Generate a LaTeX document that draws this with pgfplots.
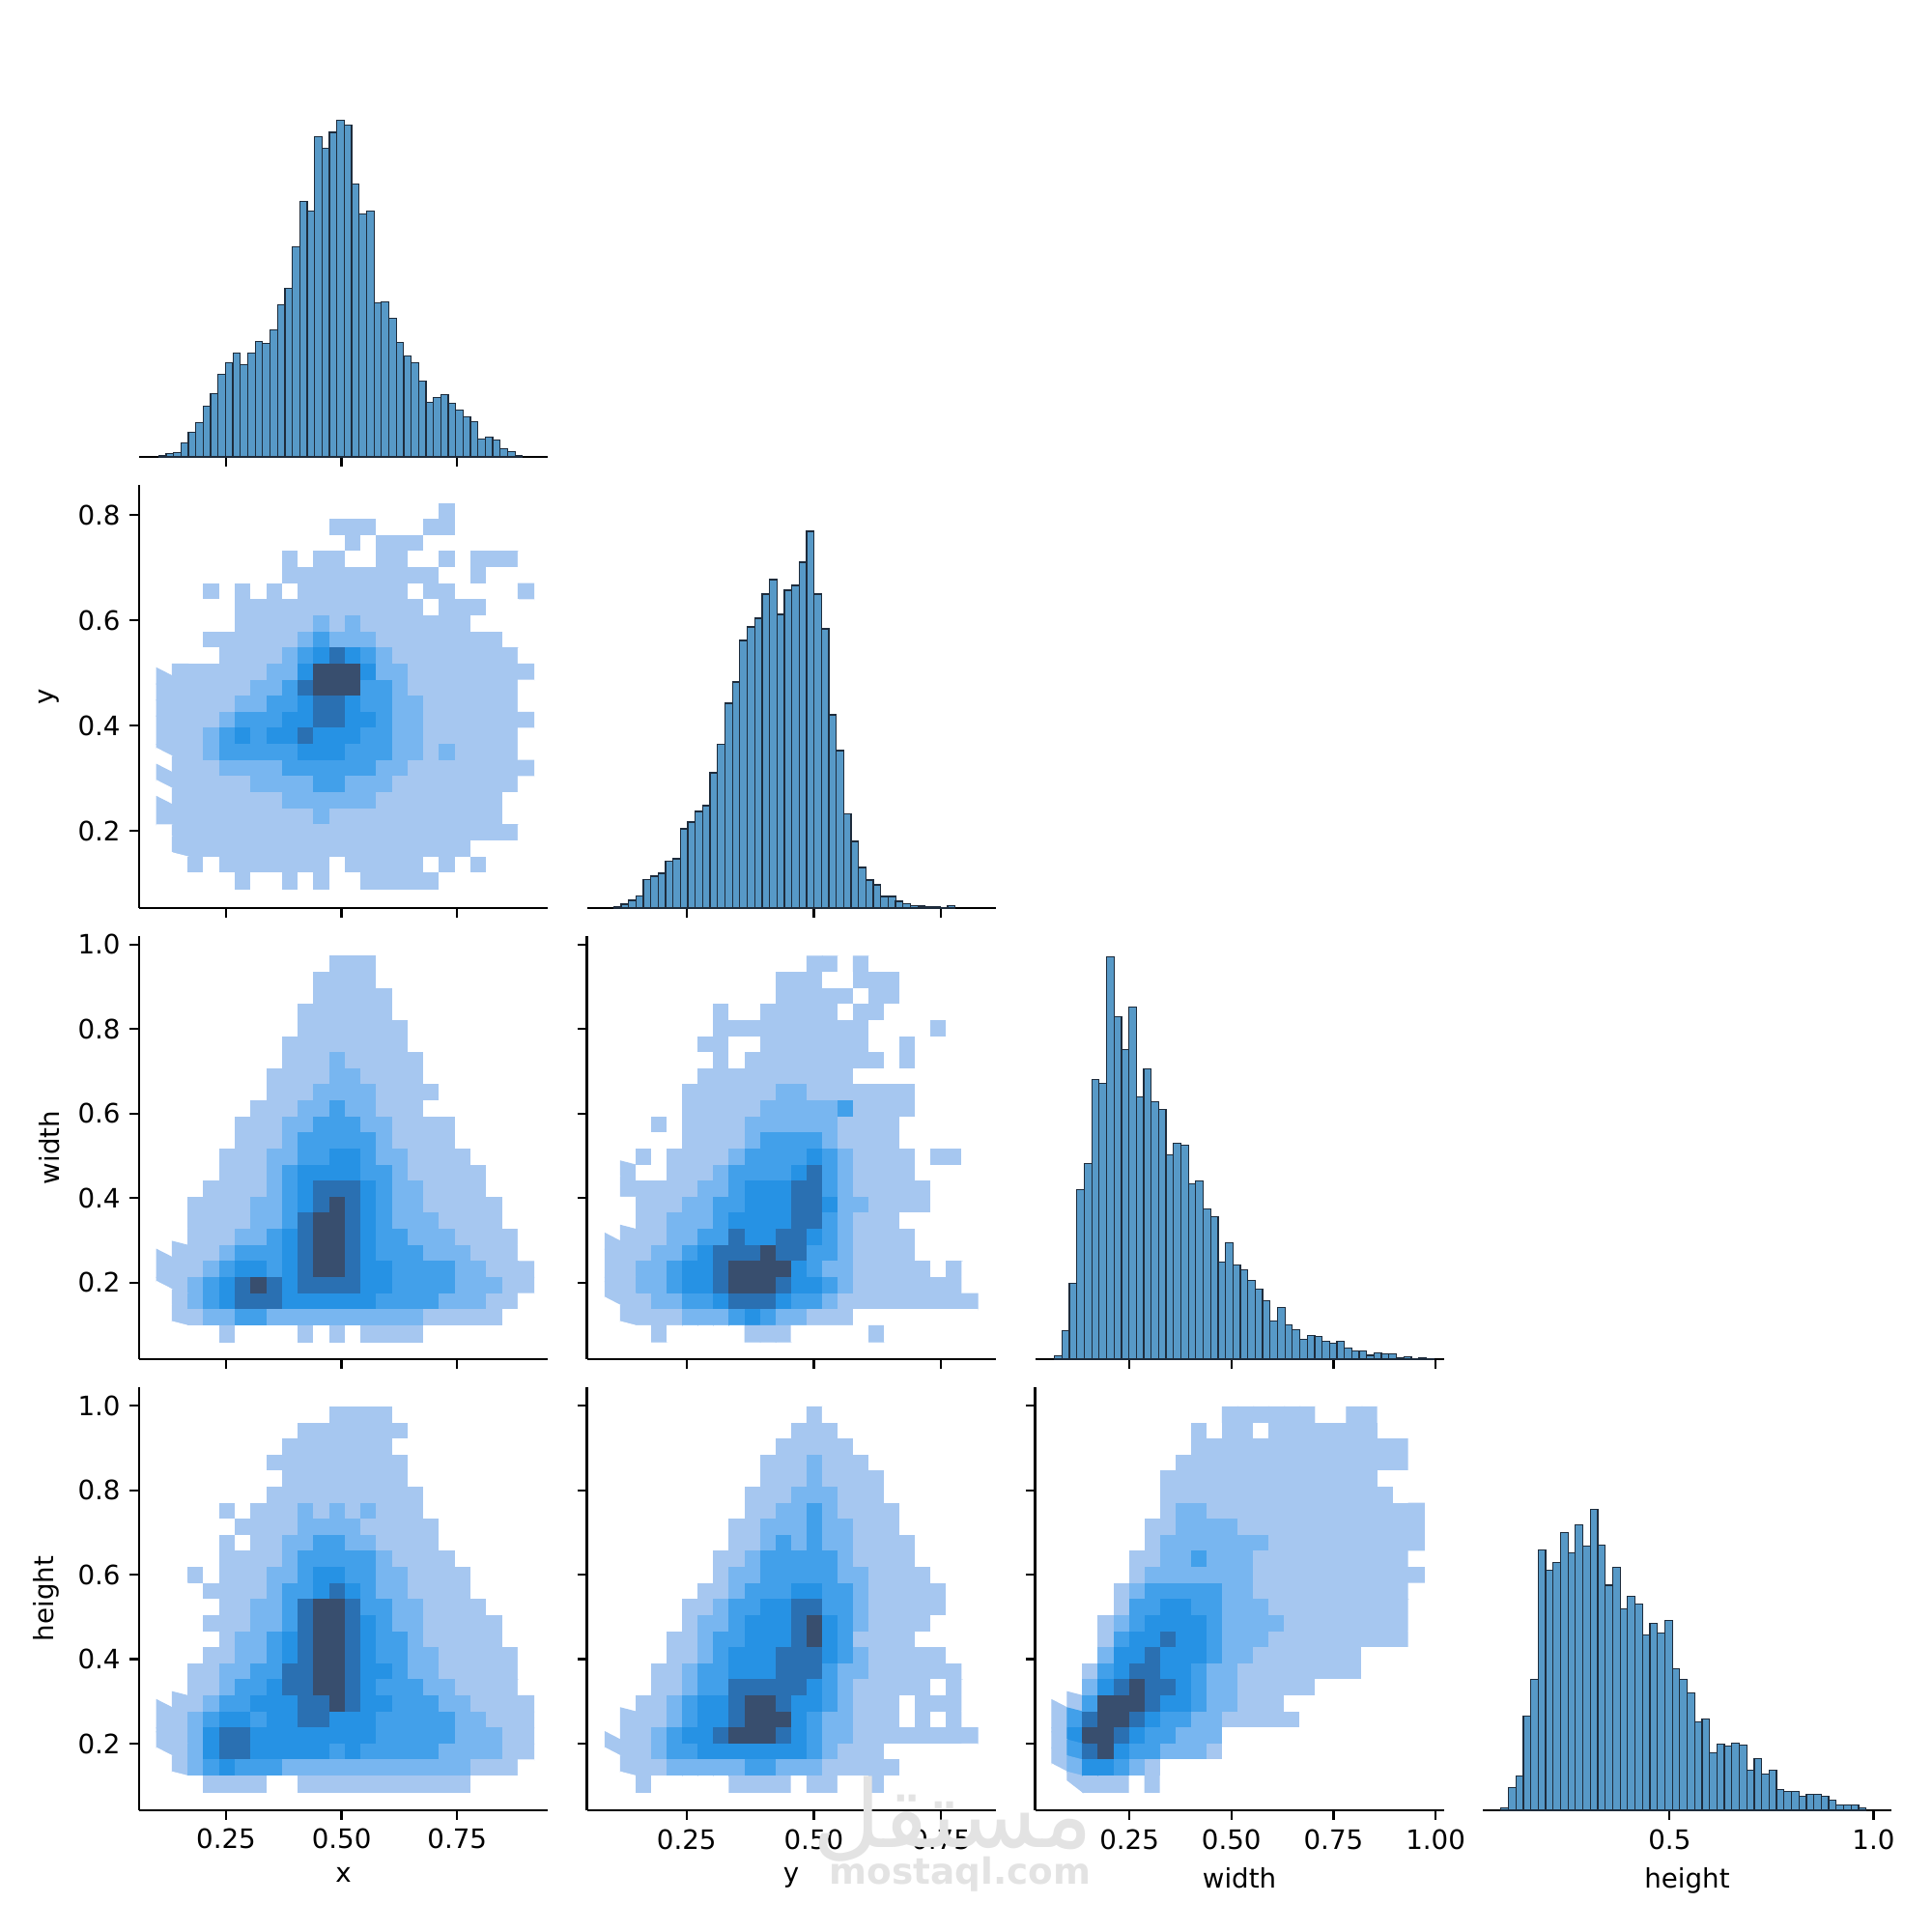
\documentclass[border=0pt]{standalone}
\usepackage{fontspec}
\setmainfont{DejaVu Sans}
\newfontfamily\arabicfont[Script=Arabic]{DejaVu Sans}
\usepackage{pgfplots}
\pgfplotsset{compat=1.18}
\TeXXeTstate=1
\definecolor{barfill}{RGB}{87,153,199}
\definecolor{baredge}{RGB}{30,44,60}
\pgfplotsset{
 ppbase/.style={scale only axis, width=2.115in, height=2.19in, anchor=south west,
   axis x line*=bottom, axis y line*=left, axis line style={-, black, line width=0.8pt},
   tick align=outside, major tick length=3.5pt,
   every tick/.style={black, line width=0.8pt},
   tick label style={font=\fontsize{10}{12}\selectfont, text=black},
   label style={font=\fontsize{10}{12}\selectfont},
   scaled ticks=false, clip=false},
 ppdiag/.style={ppbase, axis y line=none, ytick=\empty, ymin=0, ymax=438},
 pphist/.style={ybar, fill=barfill, draw=baredge, line width=0.45pt},
 ppmat/.style={ppbase, colormap={sns}{rgb255=(255,255,255) rgb255=(166,199,240) rgb255=(120,182,240) rgb255=(66,160,234) rgb255=(38,146,228) rgb255=(42,112,178) rgb255=(56,78,110)}, point meta min=0, point meta max=6},
 noxl/.style={xticklabels={,,,,,}},
 noyl/.style={yticklabels={,,,,,}},
 vX/.style={xmin=0.062, xmax=0.946, xtick={0.25,0.5,0.75}},
 vYx/.style={xmin=0.054, xmax=0.857, xtick={0.25,0.5,0.75}},
 vYy/.style={ymin=0.054, ymax=0.857, ytick={0.2,0.4,0.6,0.8}},
 vWx/.style={xmin=0.019, xmax=1.02, xtick={0.25,0.5,0.75,1.0}},
 vWy/.style={ymin=0.019, ymax=1.02, ytick={0.2,0.4,0.6,0.8,1.0}},
 vHx/.style={xmin=0.042, xmax=1.044, xtick={0.5,1.0}},
 vHy/.style={ymin=0.042, ymax=1.044, ytick={0.2,0.4,0.6,0.8,1.0}},
}
\begin{document}
\begin{tikzpicture}
\useasboundingbox (0,0) rectangle (10in,10in);

% ---------- Row 1 ----------
\begin{axis}[ppdiag, vX, noxl, at={(0.72in,7.635in)}]
\addplot[pphist, bar width=0.01606] coordinates {(0.1124,1.7) (0.1285,3.7) (0.1445,4.7) (0.1606,14.3) (0.1766,25.3) (0.1927,35.3) (0.2088,52.7) (0.2248,65.3) (0.2409,85.3) (0.2569,97.3) (0.2730,107.3) (0.2891,95.3) (0.3051,107.3) (0.3212,119.3) (0.3372,117.3) (0.3533,131.3) (0.3694,157.3) (0.3854,174.3) (0.4015,217.3) (0.4175,264.3) (0.4336,254.7) (0.4497,331.3) (0.4657,319.3) (0.4818,336) (0.4978,348.3) (0.5139,343.3) (0.5300,282.3) (0.5460,251.3) (0.5621,254.3) (0.5781,159.3) (0.5942,160.3) (0.6103,143.3) (0.6263,118.3) (0.6424,104.3) (0.6584,97.3) (0.6745,78.7) (0.6906,56.3) (0.7066,61.3) (0.7227,64.3) (0.7387,55.3) (0.7548,48.3) (0.7709,41.7) (0.7869,36.3) (0.8030,18.3) (0.8190,20.3) (0.8351,17.3) (0.8512,8.3) (0.8672,5.3) (0.8833,1.7)};
\end{axis}

% ---------- Row 2 ----------
\begin{axis}[ppmat, vX, vYy, noxl, at={(0.72in,5.30in)}, yticklabels={0.2,0.4,0.6,0.8}, ylabel={y}]
\addplot[matrix plot*, mesh/cols=24, point meta=explicit] table[row sep=\\, header=false, meta index=0, x expr={0.117+0.034*mod(\coordindex,24)}, y expr={0.10525+0.0305*(23-floor(\coordindex/24))}] {
0\\0\\0\\0\\0\\0\\ 0\\0\\0\\0\\0\\0\\ 0\\0\\0\\0\\0\\0\\ 1\\0\\0\\0\\0\\0\\
0\\0\\0\\0\\0\\0\\ 0\\0\\0\\0\\0\\1\\ 1\\1\\0\\0\\0\\1\\ 1\\0\\0\\0\\0\\0\\
0\\0\\0\\0\\0\\0\\ 0\\0\\0\\0\\0\\0\\ 1\\0\\1\\1\\1\\0\\ 0\\0\\0\\0\\0\\0\\
0\\0\\0\\0\\0\\0\\ 0\\0\\1\\0\\1\\1\\ 0\\0\\1\\1\\0\\0\\ 1\\0\\1\\1\\1\\0\\
0\\0\\0\\0\\0\\0\\ 0\\0\\1\\1\\1\\1\\ 1\\1\\1\\1\\1\\1\\ 0\\0\\1\\0\\0\\0\\
0\\0\\0\\1\\0\\1\\ 0\\1\\0\\1\\1\\1\\ 1\\1\\1\\1\\0\\1\\ 1\\0\\0\\0\\0\\1\\
0\\0\\0\\0\\0\\1\\ 1\\1\\1\\1\\1\\1\\ 1\\1\\1\\1\\1\\0\\ 1\\1\\1\\0\\0\\0\\
0\\0\\0\\0\\0\\1\\ 1\\1\\1\\1\\2\\1\\ 2\\1\\1\\1\\1\\1\\ 1\\1\\0\\0\\0\\0\\
0\\0\\0\\1\\1\\1\\ 1\\1\\1\\2\\3\\2\\ 2\\2\\1\\1\\1\\1\\ 1\\1\\1\\1\\0\\0\\
0\\0\\0\\0\\1\\1\\ 1\\1\\2\\3\\4\\5\\ 4\\3\\2\\1\\1\\1\\ 1\\1\\1\\1\\1\\0\\
0\\1\\1\\1\\1\\1\\ 1\\2\\2\\4\\6\\6\\ 6\\4\\2\\2\\1\\1\\ 1\\1\\1\\1\\1\\1\\
1\\1\\1\\1\\1\\1\\ 2\\2\\3\\5\\6\\6\\ 6\\3\\3\\2\\1\\1\\ 1\\1\\1\\1\\1\\0\\
1\\1\\1\\1\\1\\2\\ 2\\3\\3\\4\\5\\5\\ 4\\3\\3\\2\\2\\1\\ 1\\1\\1\\1\\1\\0\\
1\\1\\1\\1\\2\\3\\ 3\\3\\4\\4\\5\\5\\ 4\\4\\3\\2\\2\\1\\ 1\\1\\1\\1\\1\\1\\
1\\1\\1\\2\\3\\4\\ 3\\4\\4\\5\\4\\4\\ 4\\3\\3\\2\\2\\1\\ 1\\1\\1\\1\\1\\0\\
1\\1\\1\\2\\3\\3\\ 3\\3\\3\\4\\4\\4\\ 3\\3\\3\\2\\2\\1\\ 2\\1\\1\\1\\1\\0\\
0\\1\\1\\1\\2\\2\\ 2\\2\\3\\3\\3\\3\\ 3\\3\\2\\2\\1\\1\\ 1\\1\\1\\1\\1\\1\\
1\\1\\1\\1\\1\\1\\ 2\\2\\2\\2\\3\\3\\ 2\\2\\2\\1\\1\\1\\ 1\\1\\1\\1\\1\\0\\
0\\1\\1\\1\\1\\1\\ 1\\1\\2\\2\\2\\2\\ 2\\2\\1\\1\\1\\1\\ 1\\1\\1\\1\\0\\0\\
1\\1\\1\\1\\1\\1\\ 1\\1\\1\\1\\2\\1\\ 1\\1\\1\\1\\1\\1\\ 1\\1\\1\\1\\0\\0\\
0\\1\\1\\1\\1\\1\\ 1\\1\\1\\1\\1\\1\\ 1\\1\\1\\1\\1\\1\\ 1\\1\\1\\1\\1\\0\\
0\\1\\1\\1\\1\\1\\ 1\\1\\1\\1\\1\\1\\ 1\\1\\1\\1\\1\\1\\ 1\\1\\0\\0\\0\\0\\
0\\0\\1\\0\\1\\1\\ 1\\1\\1\\1\\1\\0\\ 1\\1\\1\\1\\1\\0\\ 1\\0\\1\\0\\0\\0\\
0\\0\\0\\0\\0\\1\\ 0\\0\\1\\0\\1\\0\\ 0\\1\\1\\1\\1\\1\\ 0\\0\\0\\0\\0\\0\\
};
\end{axis}

\begin{axis}[ppdiag, vYx, noxl, at={(3.0375in,5.30in)}]
\addplot[pphist, bar width=0.01458] coordinates {(0.1140,1.3) (0.1286,4) (0.1432,8) (0.1577,12.3) (0.1723,29.3) (0.1869,33) (0.2015,36) (0.2161,48.3) (0.2306,51) (0.2452,82) (0.2598,89) (0.2744,100) (0.2890,106) (0.3035,140) (0.3181,169.3) (0.3327,212) (0.3473,234) (0.3619,277) (0.3764,291) (0.3910,300) (0.4056,325) (0.4202,340) (0.4348,304) (0.4493,329) (0.4639,334) (0.4785,358) (0.4931,390) (0.5077,325) (0.5222,289) (0.5368,200) (0.5514,163) (0.5660,97.7) (0.5806,69) (0.5951,42) (0.6097,29) (0.6243,24) (0.6389,12) (0.6535,12) (0.6680,7) (0.6826,4.7) (0.6972,2.3) (0.7118,2) (0.7264,1.3) (0.7409,1) (0.7555,0.3) (0.7701,2.3)};
\end{axis}

% ---------- Row 3 ----------
\begin{axis}[ppmat, vX, vWy, noxl, at={(0.72in,2.965in)}, yticklabels={0.2,0.4,0.6,0.8,1.0}, ylabel={width}]
\addplot[matrix plot*, mesh/cols=24, point meta=explicit] table[row sep=\\, header=false, meta index=0, x expr={0.117+0.034*mod(\coordindex,24)}, y expr={0.079+0.038*(23-floor(\coordindex/24))}] {
0\\0\\0\\0\\0\\0\\ 0\\0\\0\\0\\0\\1\\ 1\\1\\0\\0\\0\\0\\ 0\\0\\0\\0\\0\\0\\
0\\0\\0\\0\\0\\0\\ 0\\0\\0\\0\\1\\1\\ 1\\1\\0\\0\\0\\0\\ 0\\0\\0\\0\\0\\0\\
0\\0\\0\\0\\0\\0\\ 0\\0\\0\\0\\1\\1\\ 1\\1\\1\\0\\0\\0\\ 0\\0\\0\\0\\0\\0\\
0\\0\\0\\0\\0\\0\\ 0\\0\\0\\1\\1\\1\\ 1\\1\\1\\0\\0\\0\\ 0\\0\\0\\0\\0\\0\\
0\\0\\0\\0\\0\\0\\ 0\\0\\0\\1\\1\\1\\ 1\\1\\1\\1\\0\\0\\ 0\\0\\0\\0\\0\\0\\
0\\0\\0\\0\\0\\0\\ 0\\0\\1\\1\\1\\1\\ 1\\1\\1\\1\\0\\0\\ 0\\0\\0\\0\\0\\0\\
0\\0\\0\\0\\0\\0\\ 0\\0\\1\\1\\1\\2\\ 1\\1\\1\\1\\1\\0\\ 0\\0\\0\\0\\0\\0\\
0\\0\\0\\0\\0\\0\\ 0\\1\\1\\1\\1\\2\\ 2\\1\\1\\1\\1\\0\\ 0\\0\\0\\0\\0\\0\\
0\\0\\0\\0\\0\\0\\ 0\\1\\1\\1\\2\\2\\ 2\\2\\1\\1\\1\\1\\ 0\\0\\0\\0\\0\\0\\
0\\0\\0\\0\\0\\0\\ 1\\1\\1\\2\\2\\3\\ 2\\2\\1\\1\\1\\0\\ 0\\0\\0\\0\\0\\0\\
0\\0\\0\\0\\0\\1\\ 1\\1\\2\\2\\3\\3\\ 3\\2\\2\\1\\1\\1\\ 1\\0\\0\\0\\0\\0\\
0\\0\\0\\0\\0\\1\\ 1\\1\\2\\3\\3\\3\\ 3\\3\\2\\1\\1\\1\\ 1\\0\\0\\0\\0\\0\\
0\\0\\0\\0\\1\\1\\ 1\\2\\2\\3\\3\\4\\ 4\\3\\2\\2\\1\\1\\ 1\\1\\0\\0\\0\\0\\
0\\0\\0\\0\\1\\1\\ 1\\2\\3\\4\\4\\4\\ 4\\3\\3\\2\\1\\1\\ 1\\1\\1\\0\\0\\0\\
0\\0\\0\\1\\1\\1\\ 1\\2\\3\\4\\5\\5\\ 5\\4\\3\\2\\2\\1\\ 1\\1\\1\\0\\0\\0\\
0\\0\\1\\1\\1\\1\\ 2\\2\\3\\4\\5\\6\\ 5\\4\\3\\2\\2\\1\\ 1\\1\\1\\1\\0\\0\\
0\\0\\1\\1\\1\\1\\ 2\\2\\3\\5\\6\\6\\ 5\\4\\3\\2\\2\\2\\ 1\\1\\1\\1\\0\\0\\
0\\0\\1\\1\\1\\2\\ 2\\3\\4\\5\\6\\6\\ 5\\4\\3\\3\\2\\2\\ 2\\1\\1\\1\\1\\0\\
0\\1\\1\\1\\2\\3\\ 3\\3\\4\\5\\6\\6\\ 5\\4\\3\\3\\3\\2\\ 2\\2\\1\\1\\1\\0\\
1\\1\\1\\2\\3\\4\\ 4\\3\\4\\5\\6\\6\\ 5\\4\\4\\3\\3\\3\\ 3\\2\\2\\1\\1\\1\\
1\\1\\2\\3\\4\\5\\ 6\\5\\4\\5\\5\\5\\ 5\\4\\4\\3\\3\\3\\ 3\\2\\2\\2\\1\\1\\
0\\1\\2\\3\\4\\5\\ 5\\5\\4\\4\\4\\4\\ 4\\4\\3\\3\\3\\3\\ 2\\2\\2\\1\\1\\0\\
0\\1\\1\\2\\2\\3\\ 3\\2\\2\\2\\2\\2\\ 2\\2\\2\\2\\2\\1\\ 1\\1\\1\\1\\0\\0\\
0\\0\\0\\0\\1\\0\\ 0\\0\\0\\1\\0\\1\\ 0\\1\\1\\1\\1\\0\\ 0\\0\\0\\0\\0\\0\\
};
\end{axis}

\begin{axis}[ppmat, vYx, vWy, noxl, noyl, at={(3.0375in,2.965in)}]
\addplot[matrix plot*, mesh/cols=24, point meta=explicit] table[row sep=\\, header=false, meta index=0, x expr={0.10525+0.0305*mod(\coordindex,24)}, y expr={0.079+0.038*(23-floor(\coordindex/24))}] {
0\\0\\0\\0\\0\\0\\ 0\\0\\0\\0\\0\\0\\ 0\\1\\1\\0\\1\\0\\ 0\\0\\0\\0\\0\\0\\
0\\0\\0\\0\\0\\0\\ 0\\0\\0\\0\\0\\1\\ 1\\1\\0\\0\\1\\1\\ 1\\0\\0\\0\\0\\0\\
0\\0\\0\\0\\0\\0\\ 0\\0\\0\\0\\0\\1\\ 1\\1\\1\\1\\0\\1\\ 1\\0\\0\\0\\0\\0\\
0\\0\\0\\0\\0\\0\\ 0\\1\\0\\0\\1\\1\\ 1\\1\\1\\0\\1\\1\\ 0\\0\\0\\0\\0\\0\\
0\\0\\0\\0\\0\\0\\ 0\\1\\1\\1\\1\\1\\ 1\\1\\1\\1\\1\\0\\ 0\\0\\0\\1\\0\\0\\
0\\0\\0\\0\\0\\0\\ 1\\1\\0\\0\\1\\1\\ 1\\1\\1\\1\\1\\0\\ 0\\1\\0\\0\\0\\0\\
0\\0\\0\\0\\0\\0\\ 0\\1\\0\\1\\1\\1\\ 1\\1\\1\\1\\1\\1\\ 0\\1\\0\\0\\0\\0\\
0\\0\\0\\0\\0\\0\\ 1\\1\\1\\1\\1\\1\\ 1\\1\\1\\1\\0\\0\\ 0\\0\\0\\0\\0\\0\\
0\\0\\0\\0\\0\\1\\ 1\\1\\1\\1\\1\\2\\ 2\\1\\1\\1\\1\\1\\ 1\\1\\0\\0\\0\\0\\
0\\0\\0\\0\\0\\1\\ 1\\1\\1\\1\\2\\2\\ 2\\2\\2\\3\\1\\1\\ 1\\1\\0\\0\\0\\0\\
0\\0\\0\\1\\0\\1\\ 1\\1\\1\\2\\2\\2\\ 2\\2\\2\\1\\1\\1\\ 1\\0\\0\\0\\0\\0\\
0\\0\\0\\0\\0\\1\\ 1\\1\\1\\2\\3\\3\\ 3\\3\\2\\1\\1\\1\\ 1\\0\\0\\0\\0\\0\\
0\\0\\1\\0\\1\\1\\ 1\\1\\2\\3\\3\\3\\ 3\\4\\3\\2\\1\\1\\ 1\\1\\0\\1\\1\\0\\
0\\1\\0\\0\\1\\1\\ 1\\2\\3\\3\\3\\3\\ 4\\5\\3\\2\\1\\1\\ 1\\1\\0\\0\\0\\0\\
0\\1\\1\\1\\1\\1\\ 2\\2\\3\\4\\4\\4\\ 5\\5\\3\\2\\1\\1\\ 1\\1\\1\\0\\0\\0\\
0\\0\\1\\1\\1\\2\\ 2\\3\\3\\4\\4\\4\\ 5\\5\\4\\2\\2\\1\\ 1\\1\\1\\0\\0\\0\\
0\\0\\1\\1\\2\\2\\ 2\\3\\4\\4\\4\\4\\ 5\\5\\3\\2\\1\\1\\ 1\\0\\0\\0\\0\\0\\
0\\1\\1\\1\\2\\2\\ 3\\3\\5\\4\\4\\5\\ 5\\4\\3\\2\\1\\1\\ 1\\1\\0\\0\\0\\0\\
1\\1\\1\\2\\2\\3\\ 4\\5\\5\\5\\6\\5\\ 5\\3\\3\\2\\1\\1\\ 1\\1\\0\\0\\0\\0\\
1\\1\\2\\2\\3\\4\\ 4\\5\\6\\6\\6\\6\\ 4\\3\\2\\2\\1\\1\\ 1\\1\\1\\0\\1\\0\\
1\\1\\2\\2\\3\\4\\ 4\\5\\6\\6\\6\\5\\ 4\\4\\3\\2\\1\\1\\ 1\\1\\1\\1\\1\\0\\
1\\1\\1\\2\\2\\3\\ 3\\4\\5\\5\\5\\4\\ 3\\3\\2\\1\\1\\1\\ 1\\1\\1\\1\\1\\1\\
0\\1\\1\\1\\1\\2\\ 2\\2\\3\\4\\3\\2\\ 2\\1\\1\\1\\0\\0\\ 0\\0\\0\\0\\0\\0\\
0\\0\\0\\1\\0\\0\\ 0\\0\\0\\1\\1\\1\\ 0\\0\\0\\0\\0\\1\\ 0\\0\\0\\0\\0\\0\\
};
\end{axis}

\begin{axis}[ppdiag, vWx, noxl, at={(5.3575in,2.965in)}]
\addplot[pphist, bar width=0.0182] coordinates {(0.0759,3.3) (0.0941,29.7) (0.1123,78.3) (0.1305,175.3) (0.1487,202.3) (0.1669,289.3) (0.1851,285.7) (0.2033,416.3) (0.2215,354.3) (0.2397,320.7) (0.2579,364.3) (0.2761,271.7) (0.2943,300.3) (0.3125,266.3) (0.3307,258.3) (0.3489,211.3) (0.3671,223.3) (0.3853,221.3) (0.4035,181.3) (0.4217,184.3) (0.4399,155.3) (0.4581,147.3) (0.4763,100.7) (0.4945,120.3) (0.5127,97.3) (0.5309,92.3) (0.5491,81.3) (0.5673,72.3) (0.5855,60.3) (0.6037,39.7) (0.6219,53.3) (0.6401,35.3) (0.6583,30.3) (0.6765,20.3) (0.6947,24.3) (0.7129,23.3) (0.7311,18.3) (0.7493,16.3) (0.7675,18.3) (0.7857,11.3) (0.8039,8.3) (0.8221,8.3) (0.8403,4) (0.8585,6.3) (0.8767,5.3) (0.8949,5.3) (0.9131,1.3) (0.9313,2.3) (0.9495,0.3) (0.9677,1.3) (0.9859,0.3)};
\end{axis}

% ---------- Row 4 ----------
\begin{axis}[ppmat, vX, vHy, at={(0.72in,0.63in)}, xticklabels={0.25,0.50,0.75}, yticklabels={0.2,0.4,0.6,0.8,1.0}, xlabel={x}, ylabel={height}]
\addplot[matrix plot*, mesh/cols=24, point meta=explicit] table[row sep=\\, header=false, meta index=0, x expr={0.117+0.034*mod(\coordindex,24)}, y expr={0.104+0.038*(23-floor(\coordindex/24))}] {
0\\0\\0\\0\\0\\0\\ 0\\0\\0\\0\\0\\1\\ 1\\1\\1\\0\\0\\0\\ 0\\0\\0\\0\\0\\0\\
0\\0\\0\\0\\0\\0\\ 0\\0\\0\\1\\1\\1\\ 1\\1\\1\\1\\0\\0\\ 0\\0\\0\\0\\0\\0\\
0\\0\\0\\0\\0\\0\\ 0\\0\\1\\1\\1\\1\\ 1\\1\\1\\0\\0\\0\\ 0\\0\\0\\0\\0\\0\\
0\\0\\0\\0\\0\\0\\ 0\\1\\1\\1\\1\\1\\ 1\\1\\1\\1\\0\\0\\ 0\\0\\0\\0\\0\\0\\
0\\0\\0\\0\\0\\0\\ 0\\0\\1\\1\\1\\1\\ 1\\1\\1\\1\\0\\0\\ 0\\0\\0\\0\\0\\0\\
0\\0\\0\\0\\0\\0\\ 0\\1\\1\\1\\1\\1\\ 1\\1\\1\\1\\1\\0\\ 0\\0\\0\\0\\0\\0\\
0\\0\\0\\0\\1\\0\\ 1\\1\\1\\2\\1\\2\\ 1\\2\\1\\1\\1\\0\\ 0\\0\\0\\0\\0\\0\\
0\\0\\0\\0\\0\\1\\ 1\\1\\1\\2\\2\\2\\ 2\\1\\1\\1\\1\\1\\ 0\\0\\0\\0\\0\\0\\
0\\0\\0\\0\\1\\0\\ 1\\1\\2\\2\\3\\3\\ 2\\2\\1\\1\\1\\1\\ 0\\0\\0\\0\\0\\0\\
0\\0\\0\\0\\1\\1\\ 1\\1\\2\\3\\3\\3\\ 3\\3\\2\\1\\1\\1\\ 1\\0\\0\\0\\0\\0\\
0\\0\\1\\0\\1\\1\\ 1\\2\\2\\3\\4\\4\\ 3\\3\\2\\2\\1\\1\\ 1\\1\\0\\0\\0\\0\\
0\\0\\0\\1\\1\\1\\ 1\\2\\3\\3\\4\\5\\ 4\\3\\2\\2\\1\\1\\ 1\\1\\0\\0\\0\\0\\
0\\0\\0\\0\\1\\1\\ 2\\2\\3\\5\\6\\6\\ 5\\3\\3\\2\\2\\1\\ 1\\1\\1\\0\\0\\0\\
0\\0\\0\\1\\1\\1\\ 2\\2\\3\\5\\6\\6\\ 5\\4\\3\\2\\2\\1\\ 1\\1\\1\\1\\0\\0\\
0\\0\\0\\0\\1\\2\\ 2\\3\\4\\5\\6\\6\\ 5\\4\\3\\3\\2\\1\\ 1\\1\\1\\1\\0\\0\\
0\\0\\0\\1\\1\\2\\ 2\\3\\4\\5\\6\\6\\ 5\\4\\3\\3\\2\\2\\ 1\\1\\1\\1\\1\\0\\
0\\0\\1\\1\\2\\2\\ 3\\3\\5\\5\\6\\6\\ 5\\4\\4\\3\\2\\2\\ 1\\1\\1\\1\\1\\0\\
0\\0\\1\\1\\2\\3\\ 3\\4\\5\\5\\6\\6\\ 5\\4\\3\\3\\3\\2\\ 2\\1\\1\\1\\1\\0\\
0\\1\\1\\2\\3\\3\\ 4\\4\\4\\5\\5\\6\\ 5\\4\\4\\3\\3\\3\\ 2\\2\\1\\1\\1\\1\\
1\\1\\2\\3\\4\\4\\ 3\\4\\4\\5\\5\\4\\ 4\\4\\3\\3\\3\\3\\ 3\\2\\2\\1\\1\\1\\
1\\1\\2\\4\\5\\5\\ 4\\4\\4\\4\\4\\4\\ 4\\4\\3\\3\\3\\3\\ 3\\2\\2\\2\\1\\1\\
1\\1\\2\\4\\5\\5\\ 4\\4\\4\\4\\4\\3\\ 4\\3\\3\\3\\3\\3\\ 2\\2\\2\\2\\1\\1\\
0\\1\\2\\3\\4\\3\\ 3\\3\\2\\2\\2\\2\\ 2\\2\\2\\2\\2\\2\\ 2\\2\\1\\1\\1\\0\\
0\\0\\0\\1\\1\\1\\ 1\\0\\0\\1\\1\\1\\ 1\\1\\1\\1\\1\\1\\ 1\\1\\0\\0\\0\\0\\
};
\end{axis}

\begin{axis}[ppmat, vYx, vHy, noyl, at={(3.0375in,0.63in)}, xticklabels={0.25,0.50,0.75}, xlabel={y}]
\addplot[matrix plot*, mesh/cols=24, point meta=explicit] table[row sep=\\, header=false, meta index=0, x expr={0.10525+0.0305*mod(\coordindex,24)}, y expr={0.104+0.038*(23-floor(\coordindex/24))}] {
0\\0\\0\\0\\0\\0\\ 0\\0\\0\\0\\0\\0\\ 0\\1\\0\\0\\0\\0\\ 0\\0\\0\\0\\0\\0\\
0\\0\\0\\0\\0\\0\\ 0\\0\\0\\0\\0\\0\\ 1\\1\\1\\0\\0\\0\\ 0\\0\\0\\0\\0\\0\\
0\\0\\0\\0\\0\\0\\ 0\\0\\0\\0\\0\\1\\ 1\\1\\1\\1\\0\\0\\ 0\\0\\0\\0\\0\\0\\
0\\0\\0\\0\\0\\0\\ 0\\0\\0\\0\\1\\1\\ 1\\2\\1\\1\\1\\0\\ 0\\0\\0\\0\\0\\0\\
0\\0\\0\\0\\0\\0\\ 0\\0\\0\\0\\1\\1\\ 1\\2\\1\\1\\1\\1\\ 0\\0\\0\\0\\0\\0\\
0\\0\\0\\0\\0\\0\\ 0\\0\\0\\1\\1\\1\\ 2\\2\\2\\1\\1\\1\\ 0\\0\\0\\0\\0\\0\\
0\\0\\0\\0\\0\\0\\ 0\\0\\0\\1\\1\\2\\ 2\\3\\2\\1\\1\\1\\ 1\\0\\0\\0\\0\\0\\
0\\0\\0\\0\\0\\0\\ 0\\0\\1\\1\\2\\2\\ 2\\3\\2\\2\\1\\1\\ 1\\0\\0\\0\\0\\0\\
0\\0\\0\\0\\0\\0\\ 0\\0\\1\\1\\2\\3\\ 2\\3\\2\\2\\1\\1\\ 1\\1\\0\\0\\0\\0\\
0\\0\\0\\0\\0\\0\\ 0\\1\\1\\2\\3\\3\\ 3\\3\\3\\2\\1\\1\\ 1\\1\\0\\0\\0\\0\\
0\\0\\0\\0\\0\\0\\ 0\\1\\2\\2\\3\\3\\ 3\\3\\3\\2\\2\\1\\ 1\\1\\1\\0\\0\\0\\
0\\0\\0\\0\\0\\0\\ 1\\1\\2\\3\\3\\3\\ 4\\4\\3\\3\\2\\1\\ 1\\1\\1\\1\\0\\0\\
0\\0\\0\\0\\0\\1\\ 1\\2\\3\\3\\4\\4\\ 5\\5\\3\\3\\2\\1\\ 1\\1\\1\\1\\0\\0\\
0\\0\\0\\0\\0\\1\\ 2\\2\\3\\4\\4\\4\\ 5\\6\\4\\3\\2\\1\\ 1\\1\\1\\0\\0\\0\\
0\\0\\0\\0\\1\\1\\ 2\\3\\3\\4\\4\\4\\ 5\\6\\4\\3\\1\\1\\ 1\\1\\0\\0\\0\\0\\
0\\0\\0\\0\\1\\1\\ 2\\3\\4\\4\\4\\5\\ 5\\5\\4\\3\\2\\1\\ 1\\1\\1\\1\\0\\0\\
0\\0\\0\\1\\1\\2\\ 3\\3\\4\\4\\4\\5\\ 5\\5\\3\\2\\2\\1\\ 1\\1\\1\\1\\1\\0\\
0\\0\\0\\1\\1\\2\\ 3\\3\\5\\5\\5\\5\\ 5\\4\\3\\2\\1\\1\\ 1\\1\\1\\0\\1\\0\\
0\\0\\1\\1\\2\\3\\ 4\\4\\5\\6\\6\\5\\ 4\\4\\3\\2\\1\\1\\ 1\\0\\1\\1\\1\\0\\
0\\1\\1\\1\\2\\3\\ 4\\4\\5\\6\\6\\6\\ 4\\3\\2\\2\\1\\1\\ 1\\0\\1\\0\\1\\0\\
0\\1\\1\\2\\3\\4\\ 4\\5\\6\\6\\6\\5\\ 4\\3\\2\\2\\1\\1\\ 1\\1\\1\\1\\1\\1\\
1\\1\\1\\2\\3\\3\\ 4\\4\\4\\4\\4\\4\\ 4\\3\\2\\1\\1\\1\\ 0\\0\\0\\0\\0\\0\\
0\\1\\1\\1\\2\\2\\ 2\\2\\2\\3\\3\\2\\ 2\\2\\1\\1\\1\\1\\ 1\\0\\0\\0\\0\\0\\
0\\0\\1\\0\\0\\0\\ 0\\0\\1\\1\\1\\1\\ 0\\1\\1\\0\\0\\1\\ 0\\0\\0\\0\\0\\0\\
};
\end{axis}

\begin{axis}[ppmat, vWx, vHy, noyl, at={(5.3575in,0.63in)}, xticklabels={0.25,0.50,0.75,1.00}, xlabel={width}]
\addplot[matrix plot*, mesh/cols=24, point meta=explicit] table[row sep=\\, header=false, meta index=0, x expr={0.079+0.038*mod(\coordindex,24)}, y expr={0.104+0.038*(23-floor(\coordindex/24))}] {
0\\0\\0\\0\\0\\0\\ 0\\0\\0\\0\\0\\1\\ 1\\1\\1\\1\\1\\0\\ 0\\1\\1\\0\\0\\0\\
0\\0\\0\\0\\0\\0\\ 0\\0\\0\\1\\0\\1\\ 1\\0\\1\\1\\1\\1\\ 1\\1\\1\\0\\0\\0\\
0\\0\\0\\0\\0\\0\\ 0\\0\\0\\1\\1\\1\\ 1\\1\\1\\1\\1\\1\\ 1\\1\\1\\1\\1\\0\\
0\\0\\0\\0\\0\\0\\ 0\\0\\1\\1\\1\\1\\ 1\\1\\1\\1\\1\\1\\ 1\\1\\1\\1\\1\\0\\
0\\0\\0\\0\\0\\0\\ 0\\1\\1\\1\\1\\1\\ 1\\1\\1\\1\\1\\1\\ 1\\1\\1\\0\\0\\0\\
0\\0\\0\\0\\0\\0\\ 0\\1\\1\\1\\1\\1\\ 1\\1\\1\\1\\1\\1\\ 1\\1\\1\\1\\0\\0\\
0\\0\\0\\0\\0\\0\\ 0\\1\\2\\2\\1\\1\\ 1\\1\\1\\1\\1\\1\\ 1\\1\\1\\1\\1\\1\\
0\\0\\0\\0\\0\\0\\ 1\\1\\2\\2\\2\\2\\ 1\\1\\1\\1\\1\\1\\ 1\\1\\1\\1\\1\\1\\
0\\0\\0\\0\\0\\0\\ 1\\2\\2\\2\\2\\2\\ 2\\2\\1\\1\\1\\1\\ 1\\1\\1\\1\\1\\1\\
0\\0\\0\\0\\0\\1\\ 1\\2\\2\\3\\2\\2\\ 2\\1\\1\\1\\1\\1\\ 1\\1\\1\\1\\1\\0\\
0\\0\\0\\0\\0\\1\\ 2\\2\\2\\2\\2\\2\\ 2\\1\\1\\1\\1\\1\\ 1\\1\\1\\1\\1\\1\\
0\\0\\0\\0\\1\\2\\ 3\\3\\3\\3\\3\\2\\ 2\\1\\1\\1\\1\\1\\ 1\\1\\1\\1\\1\\0\\
0\\0\\0\\0\\1\\3\\ 3\\4\\4\\3\\3\\2\\ 2\\2\\1\\1\\1\\1\\ 1\\1\\1\\1\\1\\0\\
0\\0\\0\\1\\2\\3\\ 4\\4\\4\\4\\3\\2\\ 2\\2\\2\\1\\1\\1\\ 1\\1\\1\\1\\1\\0\\
0\\0\\0\\1\\3\\4\\ 4\\5\\4\\4\\3\\2\\ 2\\2\\1\\1\\1\\1\\ 1\\1\\1\\1\\1\\0\\
0\\0\\0\\2\\4\\4\\ 5\\4\\4\\4\\3\\2\\ 2\\1\\1\\1\\1\\1\\ 1\\1\\0\\0\\0\\0\\
0\\0\\1\\3\\4\\5\\ 5\\4\\4\\3\\2\\2\\ 1\\1\\1\\1\\1\\1\\ 1\\1\\0\\0\\0\\0\\
0\\0\\2\\4\\5\\6\\ 5\\5\\4\\3\\2\\2\\ 1\\1\\1\\1\\1\\0\\ 0\\0\\0\\0\\0\\0\\
0\\1\\3\\6\\6\\6\\ 5\\4\\4\\3\\2\\2\\ 1\\1\\1\\0\\0\\0\\ 0\\0\\0\\0\\0\\0\\
1\\3\\5\\6\\6\\5\\ 4\\3\\3\\2\\2\\1\\ 1\\1\\1\\1\\0\\0\\ 0\\0\\0\\0\\0\\0\\
1\\4\\6\\6\\5\\4\\ 3\\3\\2\\2\\2\\0\\ 0\\0\\0\\0\\0\\0\\ 0\\0\\0\\0\\0\\0\\
1\\3\\5\\6\\4\\3\\ 3\\2\\2\\2\\1\\0\\ 0\\0\\0\\0\\0\\0\\ 0\\0\\0\\0\\0\\0\\
1\\2\\4\\4\\3\\2\\ 1\\0\\0\\0\\0\\0\\ 0\\0\\0\\0\\0\\0\\ 0\\0\\0\\0\\0\\0\\
0\\1\\1\\1\\1\\0\\ 1\\0\\0\\0\\0\\0\\ 0\\0\\0\\0\\0\\0\\ 0\\0\\0\\0\\0\\0\\
};
\end{axis}

\begin{axis}[ppdiag, vHx, at={(7.675in,0.63in)}, xticklabels={0.5,1.0}, xlabel={height}]
\addplot[pphist, bar width=0.01827] coordinates {(0.0955,2.3) (0.1138,23.7) (0.1320,35.7) (0.1503,97.7) (0.1686,135.7) (0.1869,269.7) (0.2051,248.7) (0.2234,256.7) (0.2417,287.7) (0.2599,266.7) (0.2782,295.7) (0.2965,273.7) (0.3147,311.7) (0.3330,274.7) (0.3513,233) (0.3696,251.7) (0.3878,208.7) (0.4061,221.7) (0.4244,213.7) (0.4426,181.7) (0.4609,193.7) (0.4792,183.7) (0.4974,196.7) (0.5157,146.7) (0.5340,135.7) (0.5523,121.7) (0.5705,91.7) (0.5888,94.7) (0.6071,59.7) (0.6253,68.7) (0.6436,66.7) (0.6619,69.7) (0.6801,67.7) (0.6984,41.7) (0.7167,53.7) (0.7349,37.7) (0.7532,41.7) (0.7715,21.7) (0.7898,19.7) (0.8080,19.7) (0.8263,14.7) (0.8446,16.7) (0.8628,16.7) (0.8811,14.7) (0.8994,10.7) (0.9176,5.7) (0.9359,5.7) (0.9542,5.7) (0.9724,2.3)};
\end{axis}

% watermark
\node[text=black!11, font=\arabicfont\fontsize{35}{35}\selectfont, inner sep=0pt] at (4.93in,0.585in) {\beginR مستقل\endR};
\node[text=black!11, font=\bfseries\fontsize{13.5}{14}\selectfont, inner sep=0pt] at (4.97in,0.30in) {mostaql.com};
\end{tikzpicture}
\end{document}
